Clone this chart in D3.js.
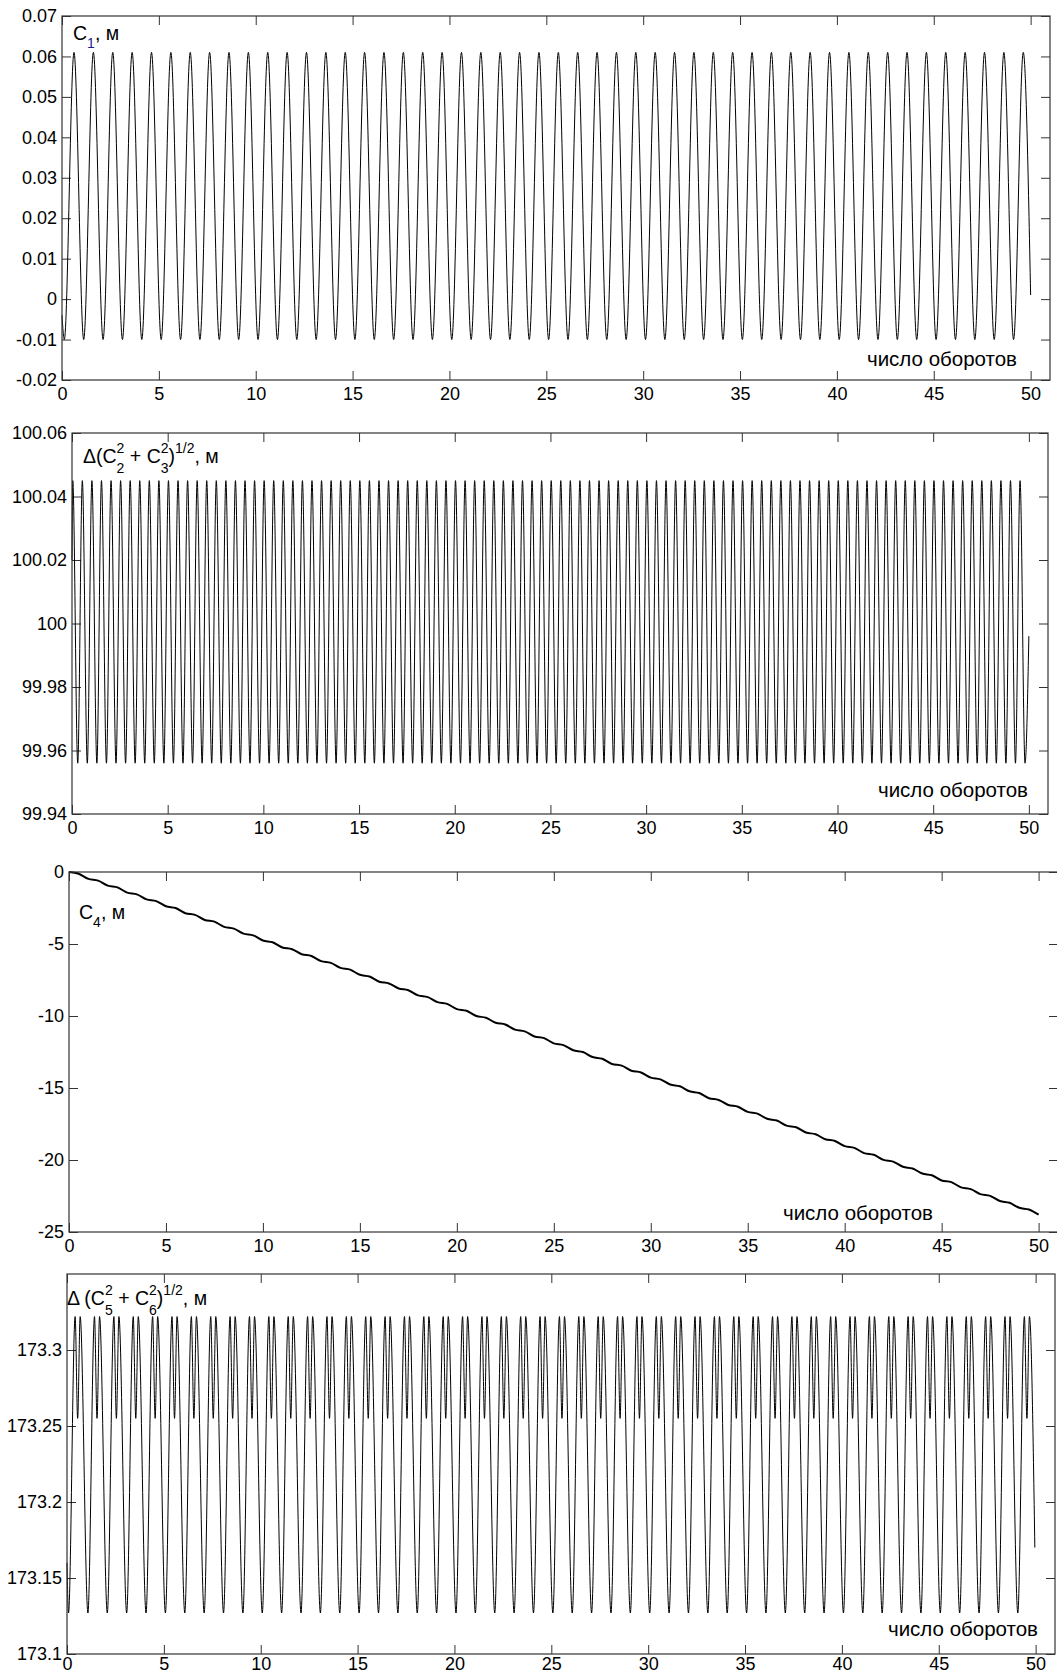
<!DOCTYPE html>
<html><head><meta charset="utf-8">
<script src="https://cdn.jsdelivr.net/npm/d3@7"></script>
<style>
body{margin:0;background:#fff;}
svg{display:block;font-family:"Liberation Sans",Arial,sans-serif;}
text{white-space:pre;font-family:"Liberation Sans",Arial,sans-serif;}
</style></head><body>
<svg id="chart" width="1057" height="1676"></svg>
<script>
// ---------------- data ----------------
const xTicks = [0,5,10,15,20,25,30,35,40,45,50];
const xTickLabels = ["0","5","10","15","20","25","30","35","40","45","50"];
const xTitle = "число оборотов";

const c1Ticks = [-0.02,-0.01,0,0.01,0.02,0.03,0.04,0.05,0.06,0.07];
const c1TickLabels = ["-0.02","-0.01","0","0.01","0.02","0.03","0.04","0.05","0.06","0.07"];
const c23Ticks = [99.94,99.96,99.98,100,100.02,100.04,100.06];
const c23TickLabels = ["99.94","99.96","99.98","100","100.02","100.04","100.06"];
const c4Ticks = [-25,-20,-15,-10,-5,0];
const c4TickLabels = ["-25","-20","-15","-10","-5","0"];
const c56Ticks = [173.1,173.15,173.2,173.25,173.3];
const c56TickLabels = ["173.1","173.15","173.2","173.25","173.3"];

// C1 (extrema)
const c1Data = [[0,-0.004],
[0.12,-0.01],[0.62,0.061],[1.12,-0.01],[1.62,0.061],[2.12,-0.01],[2.62,0.061],[3.12,-0.01],[3.62,0.061],[4.12,-0.01],[4.62,0.061],
[5.12,-0.01],[5.62,0.061],[6.12,-0.01],[6.62,0.061],[7.12,-0.01],[7.62,0.061],[8.12,-0.01],[8.62,0.061],[9.12,-0.01],[9.62,0.061],
[10.12,-0.01],[10.62,0.061],[11.12,-0.01],[11.62,0.061],[12.12,-0.01],[12.62,0.061],[13.12,-0.01],[13.62,0.061],[14.12,-0.01],[14.62,0.061],
[15.12,-0.01],[15.62,0.061],[16.12,-0.01],[16.62,0.061],[17.12,-0.01],[17.62,0.061],[18.12,-0.01],[18.62,0.061],[19.12,-0.01],[19.62,0.061],
[20.12,-0.01],[20.62,0.061],[21.12,-0.01],[21.62,0.061],[22.12,-0.01],[22.62,0.061],[23.12,-0.01],[23.62,0.061],[24.12,-0.01],[24.62,0.061],
[25.12,-0.01],[25.62,0.061],[26.12,-0.01],[26.62,0.061],[27.12,-0.01],[27.62,0.061],[28.12,-0.01],[28.62,0.061],[29.12,-0.01],[29.62,0.061],
[30.12,-0.01],[30.62,0.061],[31.12,-0.01],[31.62,0.061],[32.12,-0.01],[32.62,0.061],[33.12,-0.01],[33.62,0.061],[34.12,-0.01],[34.62,0.061],
[35.12,-0.01],[35.62,0.061],[36.12,-0.01],[36.62,0.061],[37.12,-0.01],[37.62,0.061],[38.12,-0.01],[38.62,0.061],[39.12,-0.01],[39.62,0.061],
[40.12,-0.01],[40.62,0.061],[41.12,-0.01],[41.62,0.061],[42.12,-0.01],[42.62,0.061],[43.12,-0.01],[43.62,0.061],[44.12,-0.01],[44.62,0.061],
[45.12,-0.01],[45.62,0.061],[46.12,-0.01],[46.62,0.061],[47.12,-0.01],[47.62,0.061],[48.12,-0.01],[48.62,0.061],[49.12,-0.01],[49.62,0.061],
[50,0.001]];

// Δ(C2²+C3²)^1/2
const c23Data = [[0,100.02],
[0.04,100.045],[0.3,99.956],[0.54,100.045],[0.8,99.956],[1.04,100.045],[1.3,99.956],[1.54,100.045],[1.8,99.956],[2.04,100.045],[2.3,99.956],[2.54,100.045],[2.8,99.956],[3.04,100.045],[3.3,99.956],[3.54,100.045],[3.8,99.956],[4.04,100.045],[4.3,99.956],[4.54,100.045],[4.8,99.956],
[5.04,100.045],[5.3,99.956],[5.54,100.045],[5.8,99.956],[6.04,100.045],[6.3,99.956],[6.54,100.045],[6.8,99.956],[7.04,100.045],[7.3,99.956],[7.54,100.045],[7.8,99.956],[8.04,100.045],[8.3,99.956],[8.54,100.045],[8.8,99.956],[9.04,100.045],[9.3,99.956],[9.54,100.045],[9.8,99.956],
[10.04,100.045],[10.3,99.956],[10.54,100.045],[10.8,99.956],[11.04,100.045],[11.3,99.956],[11.54,100.045],[11.8,99.956],[12.04,100.045],[12.3,99.956],[12.54,100.045],[12.8,99.956],[13.04,100.045],[13.3,99.956],[13.54,100.045],[13.8,99.956],[14.04,100.045],[14.3,99.956],[14.54,100.045],[14.8,99.956],
[15.04,100.045],[15.3,99.956],[15.54,100.045],[15.8,99.956],[16.04,100.045],[16.3,99.956],[16.54,100.045],[16.8,99.956],[17.04,100.045],[17.3,99.956],[17.54,100.045],[17.8,99.956],[18.04,100.045],[18.3,99.956],[18.54,100.045],[18.8,99.956],[19.04,100.045],[19.3,99.956],[19.54,100.045],[19.8,99.956],
[20.04,100.045],[20.3,99.956],[20.54,100.045],[20.8,99.956],[21.04,100.045],[21.3,99.956],[21.54,100.045],[21.8,99.956],[22.04,100.045],[22.3,99.956],[22.54,100.045],[22.8,99.956],[23.04,100.045],[23.3,99.956],[23.54,100.045],[23.8,99.956],[24.04,100.045],[24.3,99.956],[24.54,100.045],[24.8,99.956],
[25.04,100.045],[25.3,99.956],[25.54,100.045],[25.8,99.956],[26.04,100.045],[26.3,99.956],[26.54,100.045],[26.8,99.956],[27.04,100.045],[27.3,99.956],[27.54,100.045],[27.8,99.956],[28.04,100.045],[28.3,99.956],[28.54,100.045],[28.8,99.956],[29.04,100.045],[29.3,99.956],[29.54,100.045],[29.8,99.956],
[30.04,100.045],[30.3,99.956],[30.54,100.045],[30.8,99.956],[31.04,100.045],[31.3,99.956],[31.54,100.045],[31.8,99.956],[32.04,100.045],[32.3,99.956],[32.54,100.045],[32.8,99.956],[33.04,100.045],[33.3,99.956],[33.54,100.045],[33.8,99.956],[34.04,100.045],[34.3,99.956],[34.54,100.045],[34.8,99.956],
[35.04,100.045],[35.3,99.956],[35.54,100.045],[35.8,99.956],[36.04,100.045],[36.3,99.956],[36.54,100.045],[36.8,99.956],[37.04,100.045],[37.3,99.956],[37.54,100.045],[37.8,99.956],[38.04,100.045],[38.3,99.956],[38.54,100.045],[38.8,99.956],[39.04,100.045],[39.3,99.956],[39.54,100.045],[39.8,99.956],
[40.04,100.045],[40.3,99.956],[40.54,100.045],[40.8,99.956],[41.04,100.045],[41.3,99.956],[41.54,100.045],[41.8,99.956],[42.04,100.045],[42.3,99.956],[42.54,100.045],[42.8,99.956],[43.04,100.045],[43.3,99.956],[43.54,100.045],[43.8,99.956],[44.04,100.045],[44.3,99.956],[44.54,100.045],[44.8,99.956],
[45.04,100.045],[45.3,99.956],[45.54,100.045],[45.8,99.956],[46.04,100.045],[46.3,99.956],[46.54,100.045],[46.8,99.956],[47.04,100.045],[47.3,99.956],[47.54,100.045],[47.8,99.956],[48.04,100.045],[48.3,99.956],[48.54,100.045],[48.8,99.956],[49.04,100.045],[49.3,99.956],[49.54,100.045],[49.8,99.956],
[50,99.996]];

// C4
const c4Data = [
[0,0],[0.5,-0.12],[1,-0.48],[1.5,-0.6],[2,-0.95],[2.5,-1.07],[3,-1.43],[3.5,-1.55],[4,-1.9],[4.5,-2.02],
[5,-2.38],[5.5,-2.5],[6,-2.86],[6.5,-2.98],[7,-3.33],[7.5,-3.45],[8,-3.81],[8.5,-3.93],[9,-4.28],[9.5,-4.4],
[10,-4.76],[10.5,-4.88],[11,-5.24],[11.5,-5.36],[12,-5.71],[12.5,-5.83],[13,-6.19],[13.5,-6.31],[14,-6.66],[14.5,-6.78],
[15,-7.14],[15.5,-7.26],[16,-7.62],[16.5,-7.74],[17,-8.09],[17.5,-8.21],[18,-8.57],[18.5,-8.69],[19,-9.04],[19.5,-9.16],
[20,-9.52],[20.5,-9.64],[21,-10],[21.5,-10.12],[22,-10.47],[22.5,-10.59],[23,-10.95],[23.5,-11.07],[24,-11.42],[24.5,-11.54],
[25,-11.9],[25.5,-12.02],[26,-12.38],[26.5,-12.5],[27,-12.85],[27.5,-12.97],[28,-13.33],[28.5,-13.45],[29,-13.8],[29.5,-13.92],
[30,-14.28],[30.5,-14.4],[31,-14.76],[31.5,-14.88],[32,-15.23],[32.5,-15.35],[33,-15.71],[33.5,-15.83],[34,-16.18],[34.5,-16.3],
[35,-16.66],[35.5,-16.78],[36,-17.14],[36.5,-17.26],[37,-17.61],[37.5,-17.73],[38,-18.09],[38.5,-18.21],[39,-18.56],[39.5,-18.68],
[40,-19.04],[40.5,-19.16],[41,-19.52],[41.5,-19.64],[42,-19.99],[42.5,-20.11],[43,-20.47],[43.5,-20.59],[44,-20.94],[44.5,-21.06],
[45,-21.42],[45.5,-21.54],[46,-21.9],[46.5,-22.02],[47,-22.37],[47.5,-22.49],[48,-22.85],[48.5,-22.97],[49,-23.32],[49.5,-23.44],
[50,-23.8]];

// Δ(C5²+C6²)^1/2
const c56Data = [[0,173.16],
[0.08,173.127],[0.42,173.322],[0.55,173.255],[0.68,173.322],[1.08,173.127],[1.42,173.322],[1.55,173.255],[1.68,173.322],[2.08,173.127],[2.42,173.322],[2.55,173.255],[2.68,173.322],[3.08,173.127],[3.42,173.322],[3.55,173.255],[3.68,173.322],[4.08,173.127],[4.42,173.322],[4.55,173.255],[4.68,173.322],
[5.08,173.127],[5.42,173.322],[5.55,173.255],[5.68,173.322],[6.08,173.127],[6.42,173.322],[6.55,173.255],[6.68,173.322],[7.08,173.127],[7.42,173.322],[7.55,173.255],[7.68,173.322],[8.08,173.127],[8.42,173.322],[8.55,173.255],[8.68,173.322],[9.08,173.127],[9.42,173.322],[9.55,173.255],[9.68,173.322],
[10.08,173.127],[10.42,173.322],[10.55,173.255],[10.68,173.322],[11.08,173.127],[11.42,173.322],[11.55,173.255],[11.68,173.322],[12.08,173.127],[12.42,173.322],[12.55,173.255],[12.68,173.322],[13.08,173.127],[13.42,173.322],[13.55,173.255],[13.68,173.322],[14.08,173.127],[14.42,173.322],[14.55,173.255],[14.68,173.322],
[15.08,173.127],[15.42,173.322],[15.55,173.255],[15.68,173.322],[16.08,173.127],[16.42,173.322],[16.55,173.255],[16.68,173.322],[17.08,173.127],[17.42,173.322],[17.55,173.255],[17.68,173.322],[18.08,173.127],[18.42,173.322],[18.55,173.255],[18.68,173.322],[19.08,173.127],[19.42,173.322],[19.55,173.255],[19.68,173.322],
[20.08,173.127],[20.42,173.322],[20.55,173.255],[20.68,173.322],[21.08,173.127],[21.42,173.322],[21.55,173.255],[21.68,173.322],[22.08,173.127],[22.42,173.322],[22.55,173.255],[22.68,173.322],[23.08,173.127],[23.42,173.322],[23.55,173.255],[23.68,173.322],[24.08,173.127],[24.42,173.322],[24.55,173.255],[24.68,173.322],
[25.08,173.127],[25.42,173.322],[25.55,173.255],[25.68,173.322],[26.08,173.127],[26.42,173.322],[26.55,173.255],[26.68,173.322],[27.08,173.127],[27.42,173.322],[27.55,173.255],[27.68,173.322],[28.08,173.127],[28.42,173.322],[28.55,173.255],[28.68,173.322],[29.08,173.127],[29.42,173.322],[29.55,173.255],[29.68,173.322],
[30.08,173.127],[30.42,173.322],[30.55,173.255],[30.68,173.322],[31.08,173.127],[31.42,173.322],[31.55,173.255],[31.68,173.322],[32.08,173.127],[32.42,173.322],[32.55,173.255],[32.68,173.322],[33.08,173.127],[33.42,173.322],[33.55,173.255],[33.68,173.322],[34.08,173.127],[34.42,173.322],[34.55,173.255],[34.68,173.322],
[35.08,173.127],[35.42,173.322],[35.55,173.255],[35.68,173.322],[36.08,173.127],[36.42,173.322],[36.55,173.255],[36.68,173.322],[37.08,173.127],[37.42,173.322],[37.55,173.255],[37.68,173.322],[38.08,173.127],[38.42,173.322],[38.55,173.255],[38.68,173.322],[39.08,173.127],[39.42,173.322],[39.55,173.255],[39.68,173.322],
[40.08,173.127],[40.42,173.322],[40.55,173.255],[40.68,173.322],[41.08,173.127],[41.42,173.322],[41.55,173.255],[41.68,173.322],[42.08,173.127],[42.42,173.322],[42.55,173.255],[42.68,173.322],[43.08,173.127],[43.42,173.322],[43.55,173.255],[43.68,173.322],[44.08,173.127],[44.42,173.322],[44.55,173.255],[44.68,173.322],
[45.08,173.127],[45.42,173.322],[45.55,173.255],[45.68,173.322],[46.08,173.127],[46.42,173.322],[46.55,173.255],[46.68,173.322],[47.08,173.127],[47.42,173.322],[47.55,173.255],[47.68,173.322],[48.08,173.127],[48.42,173.322],[48.55,173.255],[48.68,173.322],[49.08,173.127],[49.42,173.322],[49.55,173.255],[49.68,173.322],
[49.96,173.17]];

// ---------------- layout ----------------
const svg = d3.select("#chart");
const AX = "#333";
const FONT = "'Liberation Sans', Arial, sans-serif";

const panels = [
  {box:{l:62,t:16,r:1050,b:380}, xMax:51, yDom:[-0.02,0.07], yTicks:c1Ticks, yLabels:c1TickLabels, data:c1Data, sw:1, xpad:7,
   label:{x:73,y:40,parts:[{t:"C"},{t:"1",small:true,dy:8,fill:"#1c1c8c"},{t:", м"}]}, xt:{x:1017,y:366}},
  {box:{l:72,t:433,r:1048,b:814}, xMax:51, yDom:[99.94,100.06], yTicks:c23Ticks, yLabels:c23TickLabels, data:c23Data, sw:1, xpad:7,
   label:{x:83,y:463,parts:[{t:"Δ(C"},{stack:["2","2"]},{t:" + C"},{stack:["2","3"]},{t:")"},{t:"1/2",small:true,dy:-10},{t:", м"}]}, xt:{x:1028,y:797}},
  {box:{l:69,t:872,r:1058,b:1232}, xMax:51, yDom:[-25,0], yTicks:c4Ticks, yLabels:c4TickLabels, data:c4Data, sw:2, xpad:7,
   label:{x:79,y:919,parts:[{t:"C"},{t:"4",small:true,dy:8},{t:", м"}]}, xt:{x:933,y:1220}},
  {box:{l:67,t:1274,r:1055,b:1654}, xMax:51, yDom:[173.1,173.35], yTicks:c56Ticks, yLabels:c56TickLabels, data:c56Data, sw:1, xpad:3,
   label:{x:67,y:1305,parts:[{t:"Δ (C"},{stack:["2","5"]},{t:" + C"},{stack:["2","6"]},{t:")"},{t:"1/2",small:true,dy:-10},{t:", м"}]}, xt:{x:1038,y:1636}}
];

const BIG = 19.5, SMALL = 14, TICK = 18;

function rich(g, x, y, parts){
  let cx = x;
  parts.forEach(p => {
    if (p.stack){
      const a = g.append("text").attr("x",cx).attr("y",y-10).attr("font-size",SMALL).attr("font-family",FONT).text(p.stack[0]);
      const b = g.append("text").attr("x",cx).attr("y",y+10).attr("font-size",SMALL).attr("font-family",FONT).text(p.stack[1]);
      cx += Math.max(a.node().getComputedTextLength(), b.node().getComputedTextLength());
    } else {
      const t = g.append("text").attr("x",cx).attr("y",y+(p.dy||0)).attr("font-family",FONT)
        .attr("font-size",p.small?SMALL:BIG).attr("fill",p.fill||"#000").text(p.t);
      cx += t.node().getComputedTextLength();
    }
  });
}

panels.forEach(p => {
  const {l,t,r,b} = p.box;
  const x = d3.scaleLinear().domain([0,p.xMax]).range([l,r]);
  const y = d3.scaleLinear().domain(p.yDom).range([b,t]);
  const g = svg.append("g");

  const styleAxis = sel => {
    sel.attr("font-family",FONT).attr("font-size",TICK);
    sel.select(".domain").remove();
    sel.selectAll(".tick line").attr("stroke",AX);
    sel.selectAll(".tick text").attr("fill","#000");
  };
  g.append("g").attr("transform",`translate(0,${b})`)
    .call(d3.axisBottom(x).tickValues(xTicks).tickFormat((d,i)=>xTickLabels[i]).tickSizeInner(-9).tickSizeOuter(0).tickPadding(p.xpad))
    .call(styleAxis);
  g.append("g").attr("transform",`translate(0,${t})`)
    .call(d3.axisTop(x).tickValues(xTicks).tickFormat("").tickSizeInner(-9).tickSizeOuter(0))
    .call(styleAxis);
  g.append("g").attr("transform",`translate(${l},0)`)
    .call(d3.axisLeft(y).tickValues(p.yTicks).tickFormat((d,i)=>p.yLabels[i]).tickSizeInner(-9).tickSizeOuter(0).tickPadding(5))
    .call(styleAxis);
  g.append("g").attr("transform",`translate(${r},0)`)
    .call(d3.axisRight(y).tickValues(p.yTicks).tickFormat("").tickSizeInner(-9).tickSizeOuter(0))
    .call(styleAxis);

  const line = d3.line().x(d=>x(d[0])).y(d=>y(d[1])).curve(d3.curveMonotoneX);
  g.append("path").datum(p.data).attr("d",line)
    .attr("fill","none").attr("stroke","#000").attr("stroke-width",p.sw).attr("stroke-linejoin","round");

  g.append("rect").attr("x",l).attr("y",t).attr("width",r-l).attr("height",b-t)
    .attr("fill","none").attr("stroke",AX).attr("stroke-width",1.2);

  rich(g, p.label.x, p.label.y, p.label.parts);
  g.append("text").attr("x",p.xt.x).attr("y",p.xt.y).attr("text-anchor","end").attr("font-family",FONT)
    .attr("font-size",20.5).attr("fill","#000").text(xTitle);
});
</script>
</body></html>
